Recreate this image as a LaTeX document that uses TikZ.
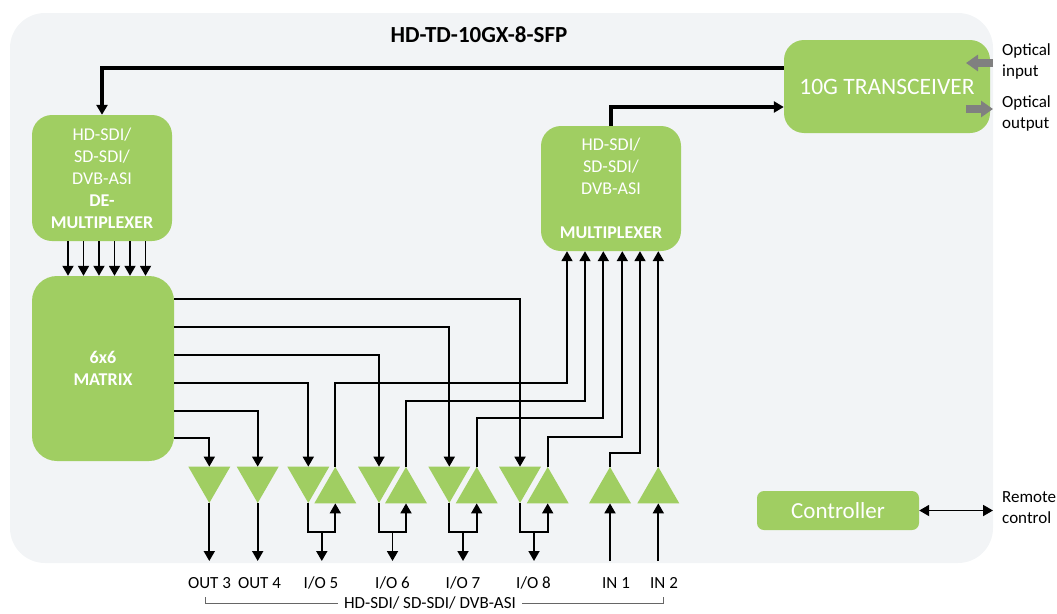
\documentclass[tikz,border=0pt]{standalone}
\usepackage{fontspec}
\setmainfont{Carlito}
\usetikzlibrary{shapes,arrows.meta}

\definecolor{blockgreen}{RGB}{160,206,98}
\definecolor{panelgray}{RGB}{242,244,246}
\definecolor{opticgray}{RGB}{128,128,128}

\tikzset{
  block/.style={fill=blockgreen, rounded corners=20pt, text=white, align=center,
                inner sep=0pt, font=\fontsize{18}{22}\selectfont},
  amp/.style={regular polygon, regular polygon sides=3, fill=blockgreen,
              minimum size=48.5pt, inner sep=0pt, outer sep=0pt},
  ampdown/.style={amp, shape border rotate=180},
  sig/.style={line width=1.8pt, -{Triangle[length=10pt,width=11pt]}},
  dsig/.style={line width=1.8pt, {Triangle[length=10pt,width=11pt]}-{Triangle[length=10pt,width=11pt]}},
  bus/.style={line width=3.5pt, -{Triangle[length=10pt,width=11pt]}},
  optic/.style={draw=opticgray, line width=8.5pt, -{Triangle[length=12pt,width=16pt]}},
  portlabel/.style={font=\fontsize{17}{21}\selectfont, inner sep=0pt},
  bracket/.style={draw=black!60, line width=0.8pt},
}

\begin{document}
\begin{tikzpicture}[x=1pt,y=-1pt]
    \useasboundingbox (0,0) rectangle (1057,613);
    \fill[panelgray, rounded corners=35pt] (10,13) rectangle (993,563);% housing
    \node[font=\fontsize{23}{27}\selectfont\bfseries] (title) at (479,35) {HD-TD-10GX-8-SFP};

    % main blocks
    \node[block, minimum width=140pt, minimum height=126pt] (demux) at (102,178)
        {HD-SDI/\\SD-SDI/\\DVB-ASI\\\textbf{DE-}\\\textbf{MULTIPLEXER}};
    \node[block, minimum width=142pt, minimum height=185pt, rounded corners=25pt] (mtx) at (103,368.5)
        {\textbf{6x6}\\\textbf{MATRIX}};
    \node[block, minimum width=140pt, minimum height=125pt] (mux) at (611,188.5)
        {HD-SDI/\\SD-SDI/\\DVB-ASI\\[21.5pt]\textbf{MULTIPLEXER}};
    \node[block, minimum width=206pt, minimum height=93pt, font=\fontsize{23.5}{27}\selectfont] (trx) at (887,86.5)
        {10G TRANSCEIVER};
    \node[block, minimum width=162pt, minimum height=39pt, rounded corners=7pt, font=\fontsize{23}{27}\selectfont] (ctrl) at (838,510.5)
        {Controller};

    % drivers (down) and receivers (up)
    \foreach \n/\x in {3/209.3,4/257.7,5/308.3,6/379,7/449.3,8/520}{% one per output
        \node[ampdown] (d\n) at (\x,478.75) {};
    }
    \foreach \n/\x in {5/335.3,6/406,7/476.7,8/547.7,in1/610,in2/658.3}{% one per input
        \node[amp] (u\n) at (\x,491.25) {};
    }

    % fibre side
    \draw[bus] ([yshift=18.5pt]trx.west) -| (demux.north);
    \draw[bus] (mux.north) |- ([yshift=-20.5pt]trx.west);
    \coordinate (optin)   at (993,63);
    \coordinate (optinh)  at (966,63);
    \coordinate (optouth) at (966,109);
    \coordinate (optout)  at (993,109);
    \draw[optic] (optin) -- (optinh);
    \draw[optic] (optouth) -- (optout);
    \node[portlabel, anchor=west, align=left] (inlbl) at (1002,61) {Optical\\input};
    \node[portlabel, anchor=west, align=left] (outlbl) at (1002,113) {Optical\\output};

    % demux to matrix
    \foreach \x in {68,83.5,99,114.5,130,145.5}{%
        \draw[sig] (demux.south -| \x,0) -- (mtx.north -| \x,0);
    }
    % matrix to drivers
    \foreach \yy/\n in {299/8,327/7,355/6,383/5,411/4,438/3}{%
        \draw[sig] (mtx.east |- 0,\yy) -| (d\n.north);
    }
    % receivers to mux
    \foreach \i/\x in {1/567,2/585,3/603.3,4/622.3,5/640,6/658.3}{%
        \coordinate (m\i) at (mux.south -| \x,0);
    }
    \foreach \n/\i/\yy in {5/1/383,6/2/401,7/3/418.3,8/4/436.7,in1/5/453.3}{%
        \draw[sig] (u\n.north) |- (m\i |- 0,\yy) -- (m\i);
    }
    \draw[sig] (uin2.north) -- (m6);

    % BNC side
    \foreach \n/\x in {3/209.3,4/257.7}{%
        \coordinate (e\n) at (\x,561);
        \draw[sig] (d\n.south) -- (e\n);
    }
    \foreach \n/\x in {5/321.8,6/392.5,7/463,8/534}{%
        \coordinate (j\n) at (\x,532);
        \coordinate (e\n) at (\x,561);
        \draw[sig] (d\n.south) |- (j\n) -| (u\n.south);
        \draw[sig] (j\n) -- (e\n);
    }
    \foreach \n/\x in {in1/610,in2/658.3}{%
        \coordinate (e\n) at (\x,561);
        \draw[sig] (e\n) -- (u\n.south);
    }
    \foreach \nm/\x/\txt in {o3/209.5/OUT 3,o4/259.5/OUT 4,io5/321/{I/O 5},io6/392.5/{I/O 6},io7/463/{I/O 7},io8/533.5/{I/O 8},i1/616/IN 1,i2/664/IN 2}{%
        \node[portlabel] (t\nm) at (\x,583) {\txt};
    }
    \node[portlabel, inner xsep=6pt] (fmt) at (430,603) {HD-SDI/ SD-SDI/ DVB-ASI};
    \coordinate (bl) at (205,597);
    \coordinate (br) at (663,597);
    \draw[bracket] (bl) |- (fmt.west);
    \draw[bracket] (br) |- (fmt.east);

    % control port
    \coordinate (remote) at (993,510.5);
    \draw[dsig] (ctrl.east) -- (remote);
    \node[portlabel, anchor=west, align=left] (rmlbl) at (1002,508) {Remote\\control};
\end{tikzpicture}
\end{document}
